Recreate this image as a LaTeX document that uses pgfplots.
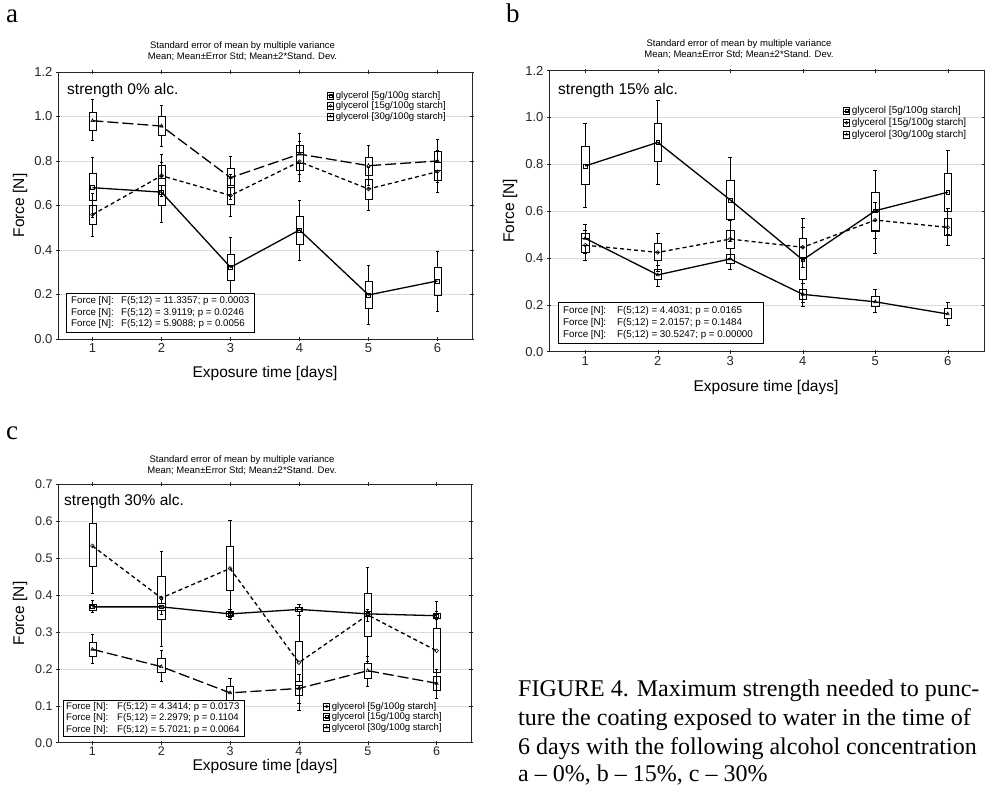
\documentclass[border=0pt]{standalone}
\usepackage{fontspec}
\setmainfont{Liberation Sans}
\newfontfamily\capfont{Liberation Serif}
\usepackage{pgfplots}
\usepgfplotslibrary{statistics}
\pgfplotsset{compat=1.18}

\pgfplotsset{
  panel/.style={
    scale only axis, anchor=south west,
    xmin=0.5, xmax=6.5, xtick={1,2,3,4,5,6}, ymin=0,
    ymajorgrids, grid style={line width=0.5pt, black!14},
    axis line style={line width=0.7pt, black!85},
    tick style={line width=0.5pt, black!85},
    major tick length=4pt, tick align=center,
    /pgf/number format/assume math mode=true,
    ticklabel style={font=\fontsize{13}{13}\selectfont, black!85},
    xticklabel style={yshift=1pt},
    yticklabel style={/pgf/number format/.cd, fixed, fixed zerofill, precision=1},
    legend style={draw=none, fill=none, anchor=north west, inner sep=0pt,
      font=\fontsize{9.6}{10}\selectfont, row sep=-2pt, cells={anchor=west}},
  },
  bxst/.style={black, line width=0.6pt, solid, forget plot,
    boxplot/draw direction=y,
    boxplot/box extend=0.105, boxplot/whisker extend=0.05,
    boxplot/draw/median/.code={}},
  ln/.style={black, line width=1.3pt, mark size=1.9pt,
    mark options={solid, line width=0.6pt},
    legend image code/.code={%
      \draw[black, solid, line width=0.5pt] (0pt,-3.5pt) rectangle (6pt,3.5pt);
      \draw[##1, solid, line width=0.5pt, mark size=1.4pt, mark repeat=2, mark phase=2]
        plot coordinates {(0pt,0pt) (3pt,0pt) (6pt,0pt)};}},
  sol/.style={ln, solid},
  shd/.style={ln, dash pattern=on 4pt off 3pt},
  lgd/.style={ln, dash pattern=on 11pt off 4pt},
}
% box: position, lower whisker, box bottom, mean, box top, upper whisker
\newcommand\bx[6]{\addplot[bxst, boxplot prepared={draw position=#1,
  lower whisker=#2, lower quartile=#3, median=#4, upper quartile=#5,
  upper whisker=#6}] coordinates {};}

\newcommand\ttl{Standard error of mean by multiple variance\\Mean; Mean±Error Std; Mean±2*Stand. Dev.}
\newcommand\lab{\fontsize{15.5}{15.5}\selectfont}

\begin{document}
\begin{tikzpicture}[x=1pt, y=1pt]
\useasboundingbox (0pt,0pt) rectangle (985pt,787pt);

% ---------------- a ----------------
\begin{axis}[panel, at={(58pt,448pt)}, width=414pt, height=267pt,
  ymax=1.2, ytick={0,0.2,0.4,0.6,0.8,1.0,1.2},
  legend style={at={(0.65,0.936)}}]
\bx{1}{0.545}{0.625}{0.68}{0.745}{0.817}
\bx{2}{0.523}{0.600}{0.66}{0.722}{0.795}
\bx{3}{0.19}{0.262}{0.322}{0.382}{0.457}
\bx{4}{0.355}{0.427}{0.49}{0.55}{0.622}
\bx{5}{0.066}{0.138}{0.198}{0.258}{0.333}
\bx{6}{0.126}{0.198}{0.261}{0.321}{0.396}
\bx{1}{0.46}{0.515}{0.559}{0.602}{0.655}
\bx{2}{0.64}{0.69}{0.734}{0.779}{0.831}
\bx{3}{0.55}{0.605}{0.645}{0.69}{0.74}
\bx{4}{0.707}{0.76}{0.797}{0.84}{0.89}
\bx{5}{0.577}{0.629}{0.674}{0.719}{0.77}
\bx{6}{0.659}{0.714}{0.752}{0.795}{0.85}
\bx{1}{0.894}{0.939}{0.981}{1.021}{1.077}
\bx{2}{0.867}{0.917}{0.957}{0.999}{1.05}
\bx{3}{0.63}{0.68}{0.725}{0.767}{0.819}
\bx{4}{0.74}{0.79}{0.831}{0.872}{0.924}
\bx{5}{0.69}{0.734}{0.779}{0.816}{0.869}
\bx{6}{0.703}{0.758}{0.80}{0.842}{0.897}
\addplot[sol, mark=square] coordinates {(1,0.68) (2,0.66) (3,0.322) (4,0.49) (5,0.198) (6,0.261)};
\addlegendentry{glycerol [5g/100g starch]}
\addplot[shd, mark=o] coordinates {(1,0.559) (2,0.734) (3,0.645) (4,0.797) (5,0.674) (6,0.752)};
\addlegendentry{glycerol [15g/100g starch]}
\addplot[lgd, mark=triangle] coordinates {(1,0.981) (2,0.957) (3,0.725) (4,0.831) (5,0.779) (6,0.80)};
\addlegendentry{glycerol [30g/100g starch]}
\end{axis}

% ---------------- b ----------------
\begin{axis}[panel, at={(549pt,435.3pt)}, width=435pt, height=281pt,
  ymax=1.2, ytick={0,0.2,0.4,0.6,0.8,1.0,1.2},
  legend style={at={(0.676,0.88)}, font=\fontsize{10}{10.5}\selectfont, row sep=-1pt}]
\bx{1}{0.615}{0.715}{0.793}{0.875}{0.975}
\bx{2}{0.715}{0.811}{0.894}{0.975}{1.075}
\bx{3}{0.47}{0.567}{0.648}{0.73}{0.83}
\bx{4}{0.21}{0.309}{0.392}{0.484}{0.57}
\bx{5}{0.42}{0.515}{0.602}{0.679}{0.776}
\bx{6}{0.50}{0.601}{0.681}{0.762}{0.861}
\bx{1}{0.39}{0.425}{0.455}{0.485}{0.52}
\bx{2}{0.345}{0.389}{0.424}{0.463}{0.505}
\bx{3}{0.40}{0.441}{0.481}{0.517}{0.56}
\bx{4}{0.36}{0.405}{0.446}{0.485}{0.53}
\bx{5}{0.484}{0.52}{0.562}{0.60}{0.64}
\bx{6}{0.453}{0.495}{0.531}{0.57}{0.612}
\bx{1}{0.42}{0.455}{0.484}{0.505}{0.545}
\bx{2}{0.28}{0.309}{0.328}{0.352}{0.37}
\bx{3}{0.352}{0.377}{0.396}{0.417}{0.44}
\bx{4}{0.195}{0.224}{0.245}{0.266}{0.29}
\bx{5}{0.168}{0.192}{0.213}{0.238}{0.268}
\bx{6}{0.114}{0.143}{0.161}{0.185}{0.209}
\addplot[sol, mark=square] coordinates {(1,0.793) (2,0.894) (3,0.648) (4,0.392) (5,0.602) (6,0.681)};
\addlegendentry{glycerol [5g/100g starch]}
\addplot[shd, mark=o] coordinates {(1,0.455) (2,0.424) (3,0.481) (4,0.446) (5,0.562) (6,0.531)};
\addlegendentry{glycerol [15g/100g starch]}
\addplot[sol, mark=triangle] coordinates {(1,0.484) (2,0.328) (3,0.396) (4,0.245) (5,0.213) (6,0.161)};
\addlegendentry{glycerol [30g/100g starch]}
\end{axis}

% ---------------- c ----------------
\begin{axis}[panel, at={(58pt,44.3pt)}, width=413pt, height=258.4pt,
  ymax=0.7, ytick={0,0.1,0.2,0.3,0.4,0.5,0.6,0.7},
  ticklabel style={font=\fontsize{12.5}{12.5}\selectfont},
  legend style={at={(0.642,0.165)}}]
\bx{1}{0.405}{0.477}{0.533}{0.593}{0.649}
\bx{2}{0.262}{0.335}{0.392}{0.45}{0.518}
\bx{3}{0.34}{0.414}{0.472}{0.533}{0.603}
\bx{4}{0.089}{0.156}{0.217}{0.276}{0.345}
\bx{5}{0.22}{0.287}{0.346}{0.405}{0.474}
\bx{6}{0.12}{0.192}{0.249}{0.31}{0.382}
\bx{1}{0.352}{0.36}{0.368}{0.376}{0.385}
\bx{2}{0.348}{0.358}{0.368}{0.378}{0.388}
\bx{3}{0.333}{0.343}{0.349}{0.355}{0.362}
\bx{4}{0.345}{0.355}{0.361}{0.368}{0.375}
\bx{5}{0.33}{0.342}{0.349}{0.356}{0.362}
\bx{6}{0.333}{0.338}{0.344}{0.35}{0.355}
\bx{1}{0.215}{0.235}{0.253}{0.271}{0.294}
\bx{2}{0.167}{0.19}{0.206}{0.229}{0.251}
\bx{3}{0.095}{0.115}{0.135}{0.154}{0.174}
\bx{4}{0.108}{0.129}{0.147}{0.165}{0.185}
\bx{5}{0.154}{0.174}{0.195}{0.215}{0.235}
\bx{6}{0.12}{0.143}{0.161}{0.181}{0.2}
\addplot[shd, mark=o] coordinates {(1,0.533) (2,0.392) (3,0.472) (4,0.217) (5,0.346) (6,0.249)};
\addlegendentry{glycerol [5g/100g starch]}
\addplot[sol, mark=square] coordinates {(1,0.368) (2,0.368) (3,0.349) (4,0.361) (5,0.349) (6,0.344)};
\addlegendentry{glycerol [15g/100g starch]}
\addplot[lgd, mark=triangle] coordinates {(1,0.253) (2,0.206) (3,0.135) (4,0.147) (5,0.195) (6,0.161)};
\addlegendentry{glycerol [30g/100g starch]}
\end{axis}

% ---------------- texts ----------------
\begin{scope}[every node/.style={inner sep=0pt}]
\node[anchor=base west, font=\capfont\fontsize{27}{27}\selectfont] at (6pt,764pt) {a};
\node[anchor=base west, font=\capfont\fontsize{27}{27}\selectfont] at (506pt,764pt) {b};
\node[anchor=base west, font=\capfont\fontsize{27}{27}\selectfont] at (6pt,347pt) {c};

\node[align=center, font=\fontsize{9.5}{11}\selectfont] at (242.5pt,735.5pt) {\ttl};
\node[align=center, font=\fontsize{9.5}{11}\selectfont] at (739pt,737.8pt) {\ttl};
\node[align=center, font=\fontsize{9.5}{11}\selectfont] at (242pt,321.5pt) {\ttl};

\node[anchor=base west, font=\fontsize{15.5}{15.5}\selectfont] at (67pt,692.7pt) {strength 0\% alc.};
\node[anchor=base west, font=\fontsize{15.5}{15.5}\selectfont] at (558pt,692.7pt) {strength 15\% alc.};
\node[anchor=base west, font=\fontsize{15.5}{15.5}\selectfont] at (64pt,281pt) {strength 30\% alc.};

\node[font=\lab] at (265pt,414pt) {Exposure time [days]};
\node[font=\lab, rotate=90] at (20pt,581.5pt) {Force [N]};
\node[font=\lab] at (766pt,400pt) {Exposure time [days]};
\node[font=\lab, rotate=90] at (510pt,576pt) {Force [N]};
\node[font=\lab] at (265pt,20.5pt) {Exposure time [days]};
\node[font=\lab, rotate=90] at (20pt,173.5pt) {Force [N]};

\draw[line width=0.6pt, fill=white] (66pt,455pt) rectangle (254pt,494pt);
\node[anchor=west, align=left, font=\fontsize{9.7}{11.7}\selectfont] at (71pt,474.5pt)
  {\makebox[50pt][l]{Force [N]:}F(5;12) = 11.3357; p = 0.0003\\
   \makebox[50pt][l]{Force [N]:}F(5;12) = 3.9119; p = 0.0246\\
   \makebox[50pt][l]{Force [N]:}F(5;12) = 5.9088; p = 0.0056};
\draw[line width=0.6pt, fill=white] (558pt,443.7pt) rectangle (763pt,484.3pt);
\node[anchor=west, align=left, font=\fontsize{9.8}{11.7}\selectfont] at (563pt,464pt)
  {\makebox[54pt][l]{Force [N]:}F(5;12) = 4.4031; p = 0.0165\\
   \makebox[54pt][l]{Force [N]:}F(5;12) = 2.0157; p = 0.1484\\
   \makebox[54pt][l]{Force [N]:}F(5;12) = 30.5247; p = 0.00000};
\draw[line width=0.6pt, fill=white] (63pt,50.3pt) rectangle (244pt,87pt);
\node[anchor=west, align=left, font=\fontsize{9.6}{11.3}\selectfont] at (66pt,68.6pt)
  {\makebox[51pt][l]{Force [N]:}F(5;12) = 4.3414; p = 0.0173\\
   \makebox[51pt][l]{Force [N]:}F(5;12) = 2.2979; p = 0.1104\\
   \makebox[51pt][l]{Force [N]:}F(5;12) = 5.7021; p = 0.0064};

\node[anchor=base west, font=\capfont\fontsize{24}{24}\selectfont] at (518pt,90pt) {FIGURE 4. Maximum strength needed to punc-};
\node[anchor=base west, font=\capfont\fontsize{24}{24}\selectfont] at (518pt,61pt) {ture the coating exposed to water in the time of};
\node[anchor=base west, font=\capfont\fontsize{24}{24}\selectfont] at (518pt,32.5pt) {6 days with the following alcohol concentration};
\node[anchor=base west, font=\capfont\fontsize{24}{24}\selectfont] at (518pt,5.5pt) {a – 0\%, b – 15\%, c – 30\%};
\end{scope}
\end{tikzpicture}
\end{document}
